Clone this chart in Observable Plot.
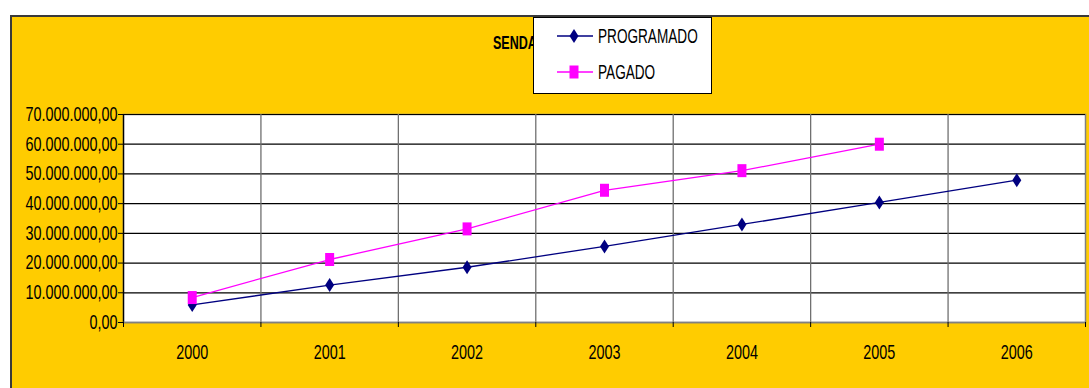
<!DOCTYPE html>
<html>
<head>
<meta charset="utf-8">
<script src="https://cdn.jsdelivr.net/npm/d3@7"></script>
<script src="https://cdn.jsdelivr.net/npm/@observablehq/plot@0.6"></script>
<style>
  html, body { margin: 0; padding: 0; background: #fff; }
  #chart { position: relative; width: 1089px; height: 388px; overflow: hidden; font-family: "Liberation Sans", Arial, sans-serif; }
  #panel { position: absolute; left: 10px; top: 15px; width: 1085px; height: 380px; background: #FFCC00; border: 2px solid #3a3a3a; box-sizing: border-box; }
  #chart svg.plot { position: absolute; left: 0; top: 0; }
  #chart svg.plot text { font-size: 20px !important; }
  #title { position: absolute; left: 493px; top: 32px; font-weight: bold; font-size: 19px; color: #000; transform: scaleX(0.66); transform-origin: left center; white-space: nowrap; }
  #legend { position: absolute; left: 533px; top: 17px; width: 179px; height: 77px; background: #fff; border: 1.5px solid #000; box-sizing: border-box; }
  .item { position: absolute; left: 23px; height: 20px; display: flex; align-items: center; font-size: 20px; white-space: nowrap; }
  .item span { display: inline-block; transform: scaleX(0.68); transform-origin: left center; }
  .item svg { margin-right: 5px; }
</style>
</head>
<body>
<div id="chart">
  <div id="panel"></div>
  <div id="title">SENDAS</div>
  <div id="legend"></div>
</div>
<script>
// Annual amounts per year
const years = [2000, 2001, 2002, 2003, 2004, 2005, 2006];
const programado = [5.9e6, 12.6e6, 18.6e6, 25.6e6, 33.0e6, 40.4e6, 47.9e6];
const pagado = [8.4e6, 21.2e6, 31.5e6, 44.5e6, 51.1e6, 60.0e6];
const yTicks = [0, 10e6, 20e6, 30e6, 40e6, 50e6, 60e6, 70e6];
const seriesNames = ["PROGRAMADO", "PAGADO"];
const seriesColors = ["#000080", "#FF00FF"];

const rows = [
  ...programado.map((v, i) => ({year: years[i], value: v, serie: seriesNames[0]})),
  ...pagado.map((v, i) => ({year: years[i], value: v, serie: seriesNames[1]}))
];

// Category boundaries between the years
const bounds = d3.range(years[0] - 0.5, years[years.length - 1] + 1, 1);

const es = d3.formatLocale({decimal: ",", thousands: ".", grouping: [3], currency: ["", ""]});
const fmt = es.format(",.2f");

// Tall diamond and tall square markers
const diamond = {draw(ctx, size) { const w = 4.5, h = 7; ctx.moveTo(0, -h); ctx.lineTo(w, 0); ctx.lineTo(0, h); ctx.lineTo(-w, 0); ctx.closePath(); }};
const square = {draw(ctx, size) { const w = 4.5, h = 6.5; ctx.moveTo(-w, -h); ctx.lineTo(w, -h); ctx.lineTo(w, h); ctx.lineTo(-w, h); ctx.closePath(); }};

const progRows = rows.filter(d => d.serie === seriesNames[0]);
const pagRows = rows.filter(d => d.serie === seriesNames[1]);

const FONT = 20;
const plot = Plot.plot({
  width: 1089,
  height: 388,
  marginLeft: 123,
  marginRight: 4,
  marginTop: 114,
  marginBottom: 66,
  style: {background: "transparent", fontFamily: "Liberation Sans, Arial, sans-serif", fontSize: FONT + "px", color: "#000"},
  x: {type: "linear", domain: [bounds[0], bounds[bounds.length - 1]]},
  y: {domain: [0, 70e6]},
  marks: [
    Plot.frame({fill: "white", stroke: "#808080", strokeWidth: 1.5}),
    Plot.ruleY(yTicks.slice(1), {stroke: "#000", strokeWidth: 1.2}),
    Plot.ruleX(bounds.slice(1, -1), {stroke: "#707070", strokeWidth: 1.3}),
    Plot.ruleX([bounds[0]], {stroke: "#000", strokeWidth: 1.3}),
    Plot.ruleY([0], {stroke: "#808080", strokeWidth: 1.5}),
    Plot.axisY({ticks: yTicks, tickFormat: fmt, tickSize: 5, tickPadding: 1, label: null}),
    Plot.axisX({ticks: bounds, tickFormat: () => "", tickSize: 5, label: null}),
    Plot.axisX({ticks: years, tickFormat: d => String(d), tickSize: 0, tickPadding: 22, label: null}),
    Plot.line(progRows, {x: "year", y: "value", stroke: seriesColors[0], strokeWidth: 1.3}),
    Plot.line(pagRows, {x: "year", y: "value", stroke: seriesColors[1], strokeWidth: 1.3}),
    Plot.dot(progRows, {x: "year", y: "value", symbol: diamond, r: 6, fill: seriesColors[0], stroke: "none"}),
    Plot.dot(pagRows, {x: "year", y: "value", symbol: square, r: 6, fill: seriesColors[1], stroke: "none"})
  ]
});
plot.classList.add("plot");

// Narrow the axis lettering horizontally around each label's anchor
const toPx = v => v == null ? 0 : (String(v).endsWith("em") ? parseFloat(v) * FONT : parseFloat(v) || 0);
plot.querySelectorAll("text").forEach(t => {
  const x = toPx(t.getAttribute("x"));
  t.removeAttribute("x");
  const tr = t.getAttribute("transform") || "";
  t.setAttribute("transform", `${tr} translate(${x},0) scale(0.72,1)`);
});
document.getElementById("chart").insertBefore(plot, document.getElementById("title"));

// Legend
const legend = document.getElementById("legend");
const shapes = [
  '<polygon points="17,3 21.5,10 17,17 12.5,10" fill="#000080"/>',
  '<rect x="12.5" y="3.5" width="9" height="13" fill="#FF00FF"/>'
];
seriesNames.forEach((name, i) => {
  const item = document.createElement("div");
  item.className = "item";
  item.style.top = (i === 0 ? 8 : 44) + "px";
  item.innerHTML = `<svg width="36" height="20"><line x1="0" x2="36" y1="10" y2="10" stroke="${seriesColors[i]}" stroke-width="1.3"/>${shapes[i]}</svg><span>${name}</span>`;
  legend.appendChild(item);
});
</script>
</body>
</html>
